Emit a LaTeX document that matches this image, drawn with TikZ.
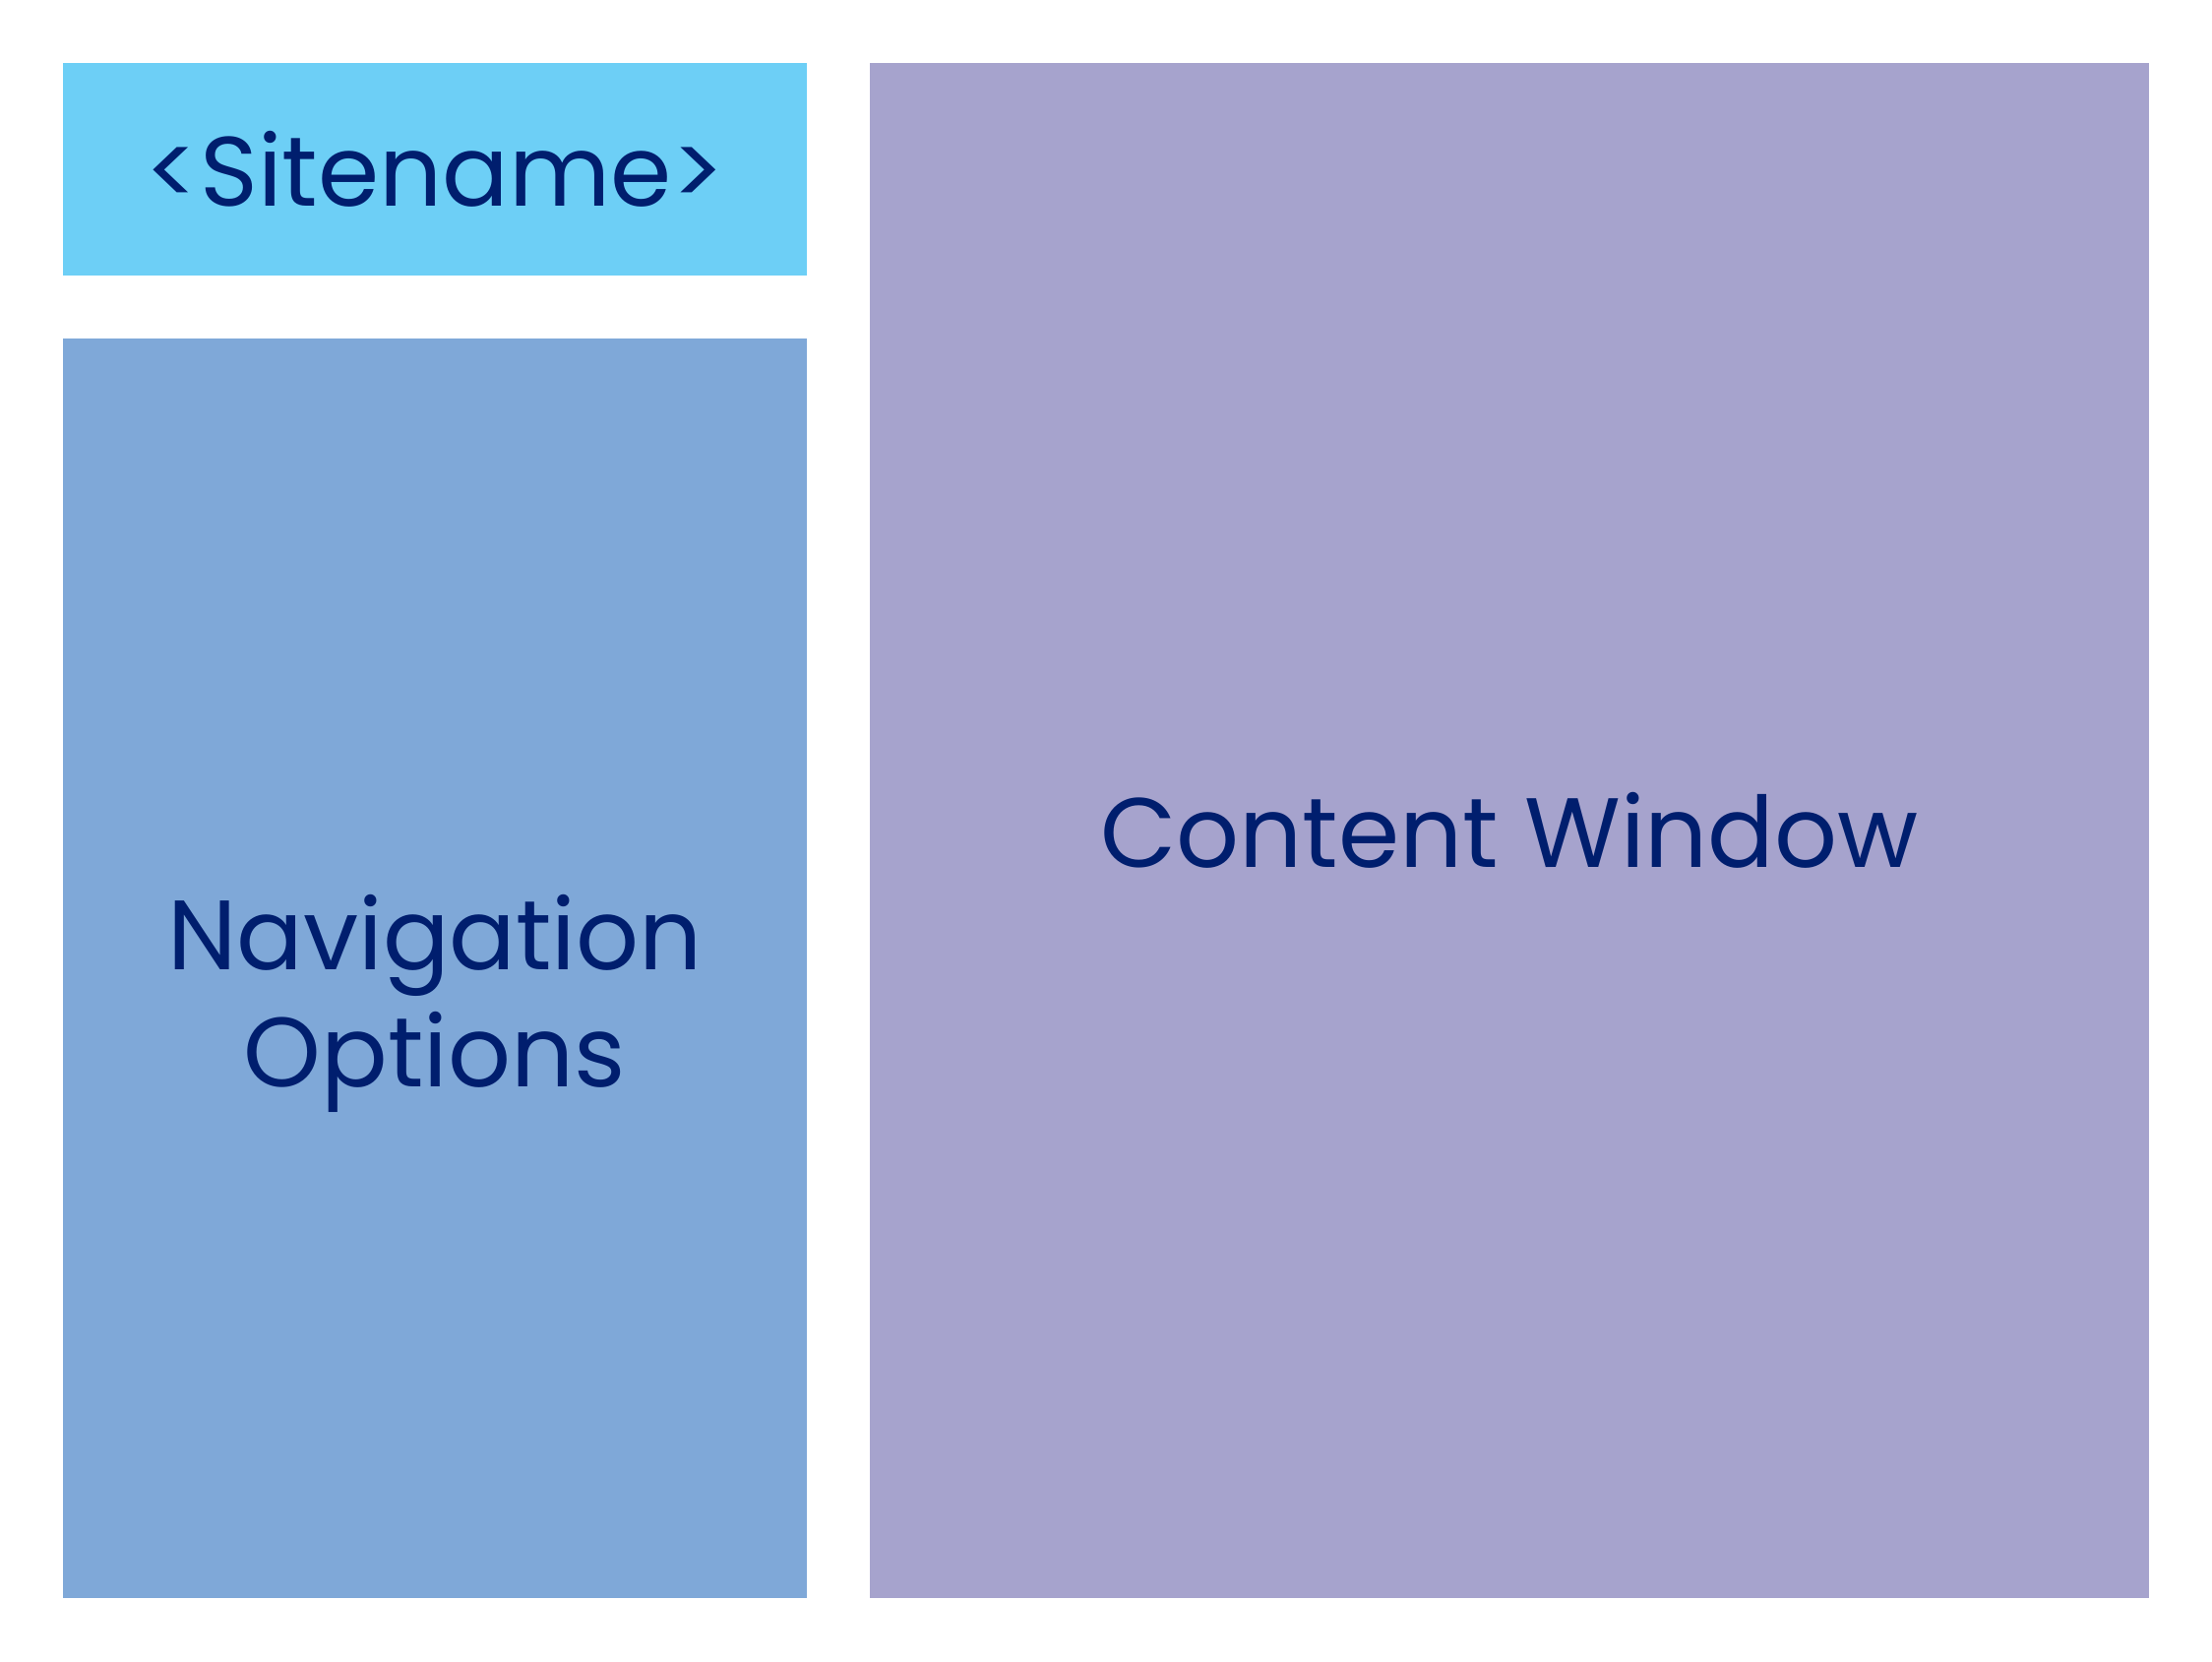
\documentclass[tikz,border=0pt]{standalone}
\usepackage{fontspec}
\setmainfont{Poppins}
\usetikzlibrary{positioning}
\definecolor{sitecyan}{HTML}{6DCFF6}
\definecolor{navblue}{HTML}{7FA8D8}
\definecolor{contentlav}{HTML}{A6A3CD}
\definecolor{inkblue}{HTML}{001E6E}
\tikzset{panel/.style={inner sep=0pt, outer sep=0pt, align=center, text=inkblue, font=\fontsize{28.5}{34}\selectfont}}

\begin{document}
\begin{tikzpicture}
	\useasboundingbox (0,0) rectangle (22.48,16.88);
	\node[panel, fill=sitecyan, minimum width=7.56cm, minimum height=2.16cm] (site) at (4.42,15.16) {<Sitename>};
	\node[panel, fill=navblue, minimum width=7.56cm, minimum height=12.80cm] (nav) at (4.42,7.04) {};
	\node[panel, fill=contentlav, minimum width=13.00cm, minimum height=15.60cm] (content) at (15.34,8.44) {Content Window};
	\node[panel] (navtext) at (4.42,6.68) {Navigation\\Options};
	\end{tikzpicture}
\end{document}
